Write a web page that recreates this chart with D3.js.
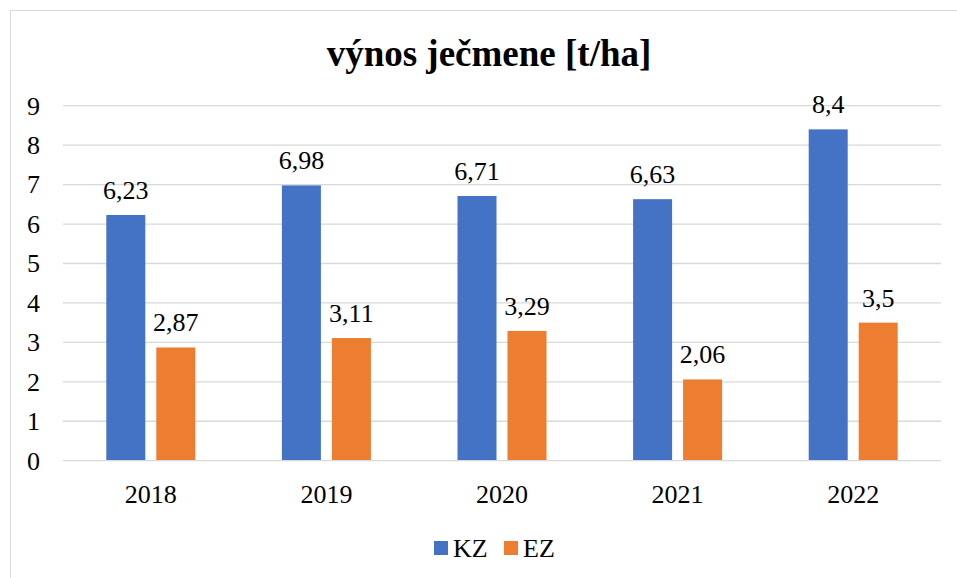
<!DOCTYPE html>
<meta charset="utf-8">
<style>
  body { margin: 0; background: #fff; }
</style>
<body>
<script src="https://d3js.org/d3.v7.min.js"></script>
<script>
  // data
  const years = ["2018", "2019", "2020", "2021", "2022"];
  const seriesNames = ["KZ", "EZ"];
  const kz = [6.23, 6.98, 6.71, 6.63, 8.4];
  const ez = [2.87, 3.11, 3.29, 2.06, 3.5];
  const yTicks = [0, 1, 2, 3, 4, 5, 6, 7, 8, 9];
  const colors = ["#4472C4", "#ED7D31"];

  const width = 957, height = 578;
  const plot = { left: 63, right: 941, top: 105.7, bottom: 460.7 };
  const serif = '"Liberation Serif"';

  const svg = d3.select("body").append("svg")
    .attr("width", width).attr("height", height);

  // outer chart border
  svg.append("rect")
    .attr("x", 10.5).attr("y", 10.5)
    .attr("width", 960).attr("height", 600)
    .attr("fill", "none").attr("stroke", "#d9d9d9");

  // title
  svg.append("text")
    .attr("x", 489).attr("y", 66)
    .attr("text-anchor", "middle")
    .style("font-family", serif)
    .style("font-size", "37px").style("font-weight", "bold")
    .text("výnos ječmene [t/ha]");

  const x = d3.scaleBand().domain(years).range([plot.left, plot.right]);
  const y = d3.scaleLinear().domain([0, 9]).range([plot.bottom, plot.top]);
  const barW = 39, gap = 11;

  // gridlines
  svg.append("g").selectAll("line").data(yTicks.slice(1))
    .join("line")
    .attr("x1", plot.left).attr("x2", plot.right)
    .attr("y1", d => y(d)).attr("y2", d => y(d))
    .attr("stroke", "#d9d9d9").attr("stroke-width", 1.3);

  // y axis labels
  const yAxis = svg.append("g")
    .attr("transform", `translate(${plot.left},0)`)
    .call(d3.axisLeft(y).tickValues(yTicks).tickSize(0).tickPadding(23).tickFormat(d3.format("d")));
  yAxis.select(".domain").remove();
  yAxis.selectAll("text").style("font-size", "26px").style("font-family", serif).attr("fill", "#000");

  // bars
  const rows = years.map((yr, i) => ({ year: yr, vals: [kz[i], ez[i]] }));
  const groups = svg.append("g").selectAll("g").data(rows).join("g")
    .attr("transform", d => `translate(${x(d.year) + x.bandwidth() / 2},0)`);

  groups.selectAll("rect").data(d => d.vals.map((v, j) => ({ v, j })))
    .join("rect")
    .attr("x", d => d.j === 0 ? -gap / 2 - barW : gap / 2)
    .attr("width", barW)
    .attr("y", d => y(d.v))
    .attr("height", d => y(0) - y(d.v))
    .attr("fill", d => colors[d.j]);

  groups.selectAll("text.lbl").data(d => d.vals.map((v, j) => ({ v, j })))
    .join("text").attr("class", "lbl")
    .attr("x", d => d.j === 0 ? -gap / 2 - barW / 2 : gap / 2 + barW / 2)
    .attr("y", d => y(d.v) - 16)
    .attr("text-anchor", "middle")
    .style("font-family", serif)
    .style("font-size", "26px")
    .text(d => String(d.v).replace(".", ","));

  // x axis baseline
  svg.append("line")
    .attr("x1", plot.left).attr("x2", plot.right)
    .attr("y1", plot.bottom).attr("y2", plot.bottom)
    .attr("stroke", "#d9d9d9").attr("stroke-width", 1.3);

  const xAxis = svg.append("g")
    .attr("transform", `translate(0,${plot.bottom})`)
    .call(d3.axisBottom(x).tickSize(0).tickPadding(24));
  xAxis.select(".domain").remove();
  xAxis.selectAll("text").style("font-size", "26px").style("font-family", serif).attr("fill", "#000");

  // legend
  const legendX = [434, 504];
  const legend = svg.append("g").selectAll("g").data(seriesNames).join("g")
    .attr("transform", (d, i) => `translate(${legendX[i]},541)`);
  legend.append("rect").attr("width", 14).attr("height", 14).attr("fill", (d, i) => colors[i]);
  legend.append("text").attr("x", 19).attr("y", 16)
    .style("font-family", serif)
    .style("font-size", "26px").text(d => d);
</script>
</body>
